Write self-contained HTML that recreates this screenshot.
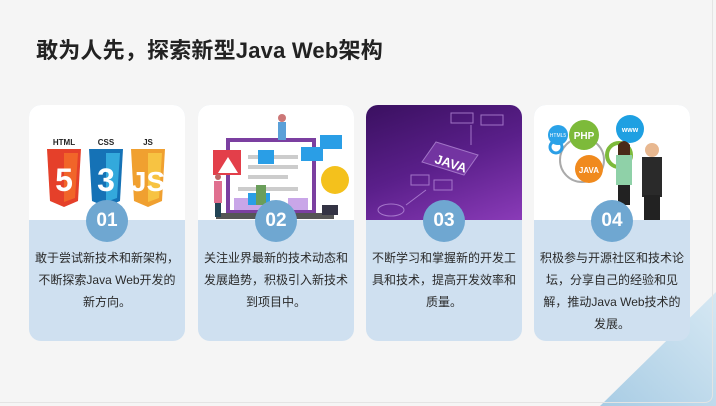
<!DOCTYPE html>
<html><head><meta charset="utf-8"><style>
*{margin:0;padding:0;box-sizing:border-box}
body{width:716px;height:406px;background:#f5f5f5;position:relative;overflow:hidden;font-family:"Liberation Sans","Noto Sans CJK SC",sans-serif}
.frame{position:absolute;left:0;top:0;width:713px;height:403px;border-right:1px solid #e4e4e4;border-bottom:1px solid #e4e4e4;border-radius:0 0 8px 0}
h1{position:absolute;left:36px;top:33px;font-size:22px;font-weight:bold;color:#222;letter-spacing:0.2px}
.card{position:absolute;top:105px;width:156px;height:236px;border-radius:12px;overflow:hidden;background:#cfe0f0}
.top{position:absolute;left:0;top:0;width:100%;height:115px;background:#fff}
.num{position:absolute;left:57px;top:95px;width:42px;height:42px;border-radius:50%;background:#6fa7d1;color:#fff;font-weight:bold;font-size:19px;text-align:center;line-height:42px}
.txt{position:absolute;left:6px;right:6px;top:142px;font-size:12px;line-height:22px;color:#2a2a2a;text-align:center}
svg{position:absolute;left:0;top:0}
</style></head><body>
<svg width="716" height="406" style="position:absolute;left:0;top:0"><defs><linearGradient id="tri" x1="0" y1="1" x2="1" y2="0"><stop offset="0" stop-color="#a8cce4"/><stop offset="1" stop-color="#d6e8f3"/></linearGradient></defs><polygon points="600,406 716,292 716,406" fill="url(#tri)"/></svg>
<div class="frame"></div>
<h1>敢为人先，探索新型Java Web架构</h1>

<div class="card" style="left:29px">
<div class="top"><svg width="156" height="115">
<g font-size="8" font-weight="bold" text-anchor="middle" fill="#222"><text x="35" y="40">HTML</text><text x="77" y="40">CSS</text><text x="119" y="40">JS</text></g>
<polygon points="18,44 52,44 49,96 35,102 21,96" fill="#e5402a"/><polygon points="35,48 49,48 46,93 35,97" fill="#f16529"/>
<text x="35" y="86" font-size="32" font-weight="bold" fill="#fff" text-anchor="middle">5</text>
<polygon points="60,44 94,44 91,96 77,102 63,96" fill="#1572b6"/><polygon points="77,48 91,48 88,93 77,97" fill="#33a9dc"/>
<text x="77" y="86" font-size="32" font-weight="bold" fill="#fff" text-anchor="middle">3</text>
<polygon points="102,44 136,44 133,96 119,102 105,96" fill="#f0a030"/><polygon points="119,48 133,48 130,93 119,97" fill="#f7c342"/>
<text x="119" y="86" font-size="28" font-weight="bold" fill="#fff" text-anchor="middle">JS</text>
</svg></div>
<div class="num">01</div>
<div class="txt">敢于尝试新技术和新架构，<br>不断探索Java Web开发的<br>新方向。</div></div>

<div class="card" style="left:198px">
<div class="top"><svg width="156" height="115">
<rect x="30" y="35" width="86" height="72" fill="#fff" stroke="#7b3fa0" stroke-width="4"/>
<rect x="50" y="50" width="50" height="4" fill="#ccc"/><rect x="50" y="60" width="50" height="4" fill="#ccc"/><rect x="50" y="70" width="40" height="4" fill="#ccc"/><rect x="40" y="82" width="60" height="4" fill="#ccc"/>
<rect x="36" y="93" width="30" height="12" fill="#c9a6e8"/><rect x="90" y="93" width="20" height="12" fill="#c9a6e8"/>
<rect x="18" y="108" width="118" height="6" fill="#555"/>
<rect x="15" y="45" width="28" height="25" fill="#e33f4a"/><polygon points="20,68 30,52 40,68" fill="#fff"/>
<rect x="60" y="45" width="16" height="14" fill="#2a9ee6"/><rect x="103" y="42" width="22" height="14" fill="#2a9ee6"/><rect x="122" y="30" width="22" height="14" fill="#2a9ee6"/><rect x="50" y="88" width="22" height="12" fill="#2a9ee6"/>
<circle cx="137" cy="75" r="14" fill="#f4c11c"/>
<circle cx="84" cy="13" r="4" fill="#c77"/><rect x="80" y="17" width="8" height="18" fill="#5aa0d8"/>
<circle cx="20" cy="72" r="3" fill="#b66"/><rect x="16" y="76" width="8" height="22" fill="#e07090"/><rect x="17" y="98" width="6" height="14" fill="#245"/>
<rect x="58" y="80" width="10" height="20" fill="#6a9e5a"/><rect x="124" y="100" width="16" height="10" fill="#334"/>
</svg></div>
<div class="num">02</div>
<div class="txt">关注业界最新的技术动态和<br>发展趋势，积极引入新技术<br>到项目中。</div></div>

<div class="card" style="left:366px">
<div class="top" style="background:linear-gradient(160deg,#3a1060 0%,#5a1f8a 50%,#8a3bb8 100%)"><svg width="156" height="115">
<g stroke="#b58ad8" fill="none" stroke-width="1" opacity="0.8">
<polygon points="70,37 112,50 98,70 56,57" fill="#7a3aa8"/>
<rect x="85" y="8" width="22" height="10"/><rect x="115" y="10" width="22" height="10"/>
<rect x="45" y="70" width="18" height="10"/><rect x="68" y="75" width="18" height="10"/>
<ellipse cx="25" cy="105" rx="13" ry="6"/><line x1="40" y1="100" x2="60" y2="85"/><line x1="105" y1="20" x2="105" y2="40"/>
</g>
<text x="85" y="63" font-size="13" font-weight="bold" fill="#fff" text-anchor="middle" transform="rotate(18 85 58)">JAVA</text>
</svg></div>
<div class="num">03</div>
<div class="txt">不断学习和掌握新的开发工<br>具和技术，提高开发效率和<br>质量。</div></div>

<div class="card" style="left:534px">
<div class="top"><svg width="156" height="115">
<circle cx="48" cy="55" r="22" fill="none" stroke="#aaa" stroke-width="2"/>
<circle cx="22" cy="42" r="6" fill="none" stroke="#2a9ee6" stroke-width="3"/>
<circle cx="24" cy="30" r="10" fill="#2aa2e8"/><text x="24" y="32" font-size="5" fill="#fff" text-anchor="middle">HTML5</text>
<circle cx="50" cy="30" r="15" fill="#7dba3a"/><text x="50" y="34" font-size="10" font-weight="bold" fill="#fff" text-anchor="middle">PHP</text>
<circle cx="96" cy="24" r="14" fill="#1ea0e2"/><text x="96" y="27" font-size="7" font-weight="bold" fill="#fff" text-anchor="middle">www</text>
<circle cx="55" cy="64" r="14" fill="#f08a1e"/><text x="55" y="68" font-size="8" font-weight="bold" fill="#fff" text-anchor="middle">JAVA</text>
<circle cx="85" cy="50" r="12" fill="none" stroke="#7dba3a" stroke-width="4"/>
<circle cx="90" cy="43" r="6" fill="#e8b890"/><path d="M84 40 q6 -8 12 0 l0 10 l-12 0z" fill="#4a2a18"/>
<rect x="82" y="50" width="16" height="30" fill="#8fd1a8"/><rect x="84" y="80" width="12" height="20" fill="#222"/>
<circle cx="118" cy="45" r="7" fill="#e8b890"/><rect x="108" y="52" width="20" height="40" fill="#2a2a2a"/><rect x="110" y="90" width="16" height="25" fill="#222"/>
</svg></div>
<div class="num">04</div>
<div class="txt">积极参与开源社区和技术论<br>坛，分享自己的经验和见<br>解，推动Java Web技术的<br>发展。</div></div>
</body></html>
